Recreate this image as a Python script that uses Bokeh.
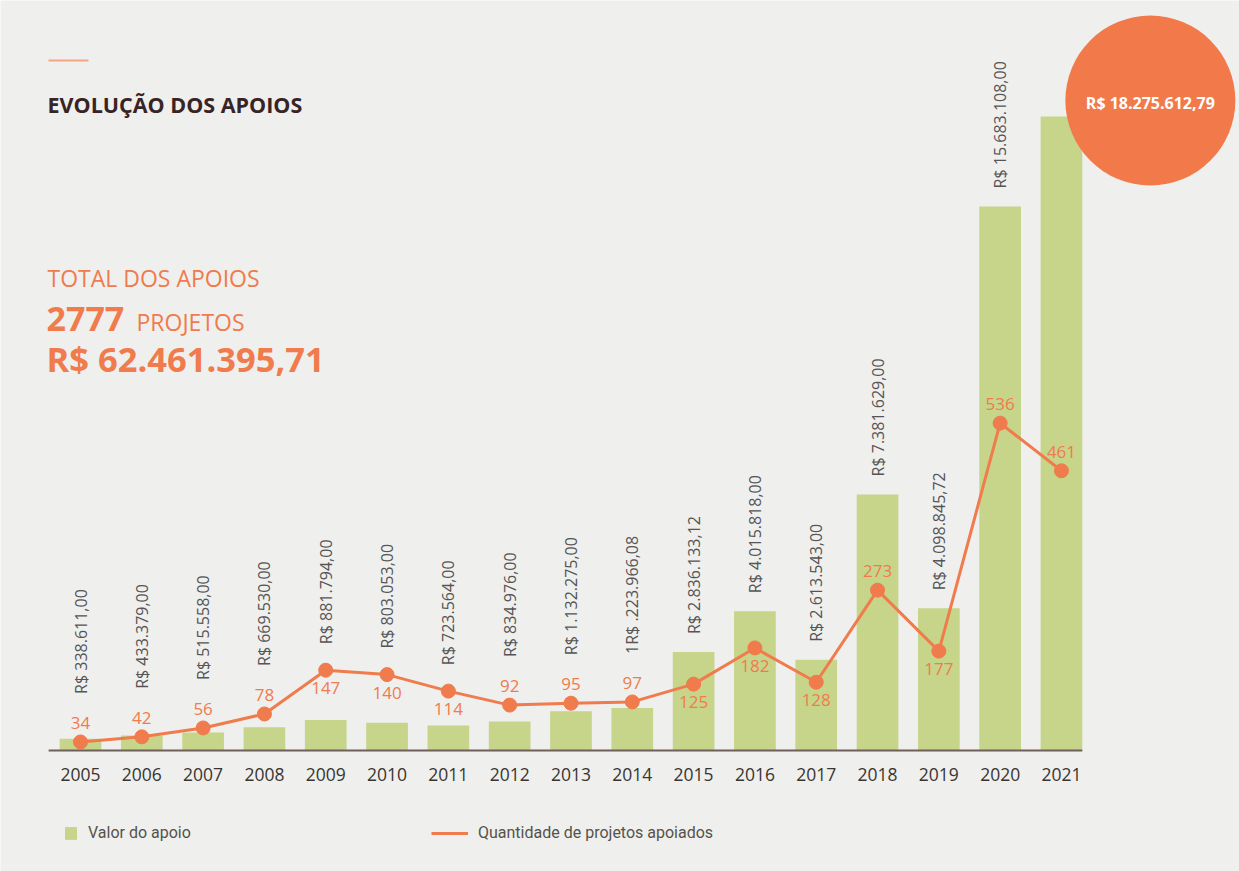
import math
from bokeh.plotting import figure
from bokeh.models import ColumnDataSource, Range1d, FixedTicker, Label, Legend, LegendItem
from bokeh.core.properties import value
from bokeh.embed import file_html
from bokeh.resources import INLINE

# ---------------- data ----------------
years = [2005, 2006, 2007, 2008, 2009, 2010, 2011, 2012, 2013, 2014,
         2015, 2016, 2017, 2018, 2019, 2020, 2021]
valores = [338611.00, 433379.00, 515558.00, 669530.00, 881794.00, 803053.00,
           723564.00, 834976.00, 1132275.00, 1223966.08, 2836133.12,
           4015818.00, 2613543.00, 7381629.00, 4098845.72, 15683108.00,
           18275612.79]
projetos = [34, 42, 56, 78, 147, 140, 114, 92, 95, 97, 125, 182, 128, 273,
            177, 536, 461]
rotulos_valor = ["R$ 338.611,00", "R$ 433.379,00", "R$ 515.558,00",
                 "R$ 669.530,00", "R$ 881.794,00", "R$ 803.053,00",
                 "R$ 723.564,00", "R$ 834.976,00", "R$ 1.132.275,00",
                 "1R$ .223.966,08", "R$ 2.836.133,12", "R$ 4.015.818,00",
                 "R$ 2.613.543,00", "R$ 7.381.629,00", "R$ 4.098.845,72",
                 "R$ 15.683.108,00"]
posicao_rotulo = ["above", "above", "above", "above", "below", "below",
                  "below", "above", "above", "above", "below", "below",
                  "below", "above", "below", "above", "above"]
titulo = "EVOLUÇÃO DOS APOIOS"
total_label = "TOTAL DOS APOIOS"
total_projetos = "2777"
total_valor = "R$ 62.461.395,71"
destaque_2021 = "R$ 18.275.612,79"
legenda_barras = "Valor do apoio"
legenda_linha = "Quantidade de projetos apoiados"

# ---------------- styling / geometry ----------------
BG = "#efefee"
GREEN = "#c6d58a"
ORANGE = "#f07b4c"
DARK = "#382424"
GRAY = "#555555"
FONT = "Open Sans"
LEG_FONT = "Roboto"

W, H = 1239, 871
BASE = 750                        # baseline (px from top)
STEP = 61.31                      # px per year
X0 = 2005 - 80 / STEP
X1 = X0 + W / STEP
KV = 18.2756e6 / 634              # value units per px
PC = 0.635                        # px per project
C0 = 20.5                         # project count at baseline

def X(ix):   # px -> data x
    return X0 + ix / STEP

def Y(iy):   # px from top -> data y (value axis)
    return (BASE - iy) * KV

def hv(px):
    return px * KV

def hc(px):
    return px / PC

p = figure(width=W, height=H,
           x_range=Range1d(X0, X1),
           y_range=Range1d(-(H - BASE) * KV, BASE * KV),
           output_backend="svg", toolbar_location=None,
           y_axis_location=None,
           min_border_left=0, min_border_right=0, min_border_top=0,
           min_border_bottom=0,
           background_fill_color=BG, border_fill_color=BG,
           outline_line_color=None)
p.extra_y_ranges = {"count": Range1d(C0 - (H - BASE) / PC, C0 + BASE / PC)}
p.grid.visible = False

# bars
src = ColumnDataSource(dict(x=years, v=valores, c=projetos))
bars = p.vbar(x="x", top="v", width=0.68, bottom=0, source=src,
              fill_color=GREEN, line_color=None)

# baseline
p.segment(x0=[years[0] - 0.52], x1=[years[-1] + 0.34], y0=[0], y1=[0],
          line_color="#6e5f5a", line_width=2)

# line + points
line = p.line(x="x", y="c", source=src, y_range_name="count",
              line_color=ORANGE, line_width=3)
p.scatter(x="x", y="c", source=src, y_range_name="count", size=14,
          fill_color=ORANGE, line_color=ORANGE)

# count labels
lab_x, lab_y, lab_t = [], [], []
for yr, c, pos in zip(years, projetos, posicao_rotulo):
    lab_x.append(yr)
    lab_y.append(c + hc(19) if pos == "above" else c - hc(18))
    lab_t.append(str(c))
p.text(x=lab_x, y=lab_y, text=lab_t, y_range_name="count",
       text_font=value(FONT), text_font_size="17px", text_color=ORANGE,
       text_align="center", text_baseline="middle")

# rotated value labels (2005-2020)
lx, ly = [], []
for yr, v, c, pos in zip(years[:-1], valores[:-1], projetos[:-1], posicao_rotulo[:-1]):
    h_bar = v / KV
    h_pt = (c - C0) * PC
    h = max(h_bar, h_pt + (30 if pos == "above" else 8)) + 18
    lx.append(yr)
    ly.append(hv(h))
p.text(x=lx, y=ly, text=rotulos_valor, angle=math.pi / 2,
       text_font=value(FONT), text_font_size="16px", text_color=GRAY,
       text_align="left", text_baseline="middle")

# highlight circle for 2021
p.scatter(x=[years[-1] + 1.45], y=[valores[-1] + hv(16)], size=170,
          fill_color="#f27a4a", line_color=None)
p.text(x=[years[-1] + 1.45], y=[valores[-1] + hv(13)], text=[destaque_2021],
       text_font=value(FONT), text_font_size="16px", text_font_style="bold",
       text_color="white", text_align="center", text_baseline="middle")

# header decoration + titles
p.segment(x0=[X(48)], x1=[X(88)], y0=[Y(60)], y1=[Y(60)],
          line_color="#f3a585", line_width=2)
p.add_layout(Label(x=X(47), y=Y(104), text=titulo, text_font=FONT,
                   text_font_size="21.5px", text_font_style="bold",
                   text_color=DARK, text_baseline="middle"))
p.add_layout(Label(x=X(47), y=Y(277), text=total_label, text_font=FONT,
                   text_font_size="23px", text_color=ORANGE,
                   text_baseline="middle"))
p.add_layout(Label(x=X(46), y=Y(318), text=total_projetos, text_font=FONT,
                   text_font_size="34px", text_font_style="bold",
                   text_color=ORANGE, text_baseline="middle"))
p.add_layout(Label(x=X(136), y=Y(321), text="PROJETOS", text_font=FONT,
                   text_font_size="23px", text_color=ORANGE,
                   text_baseline="middle"))
p.add_layout(Label(x=X(46), y=Y(358), text=total_valor, text_font=FONT,
                   text_font_size="34.5px", text_font_style="bold",
                   text_color=ORANGE, text_baseline="middle"))

# x axis drawn at the baseline (takes no border space)
ax = p.xaxis[0]
ax.fixed_location = 0
ax.ticker = FixedTicker(ticks=years)
ax.axis_line_color = None
ax.major_tick_line_color = None
ax.minor_tick_line_color = None
ax.major_label_standoff = 11
ax.major_label_text_font = FONT
ax.major_label_text_font_size = "17.5px"
ax.major_label_text_color = "#3a3530"

# legends (two, so each glyph keeps its own width)
leg_style = dict(orientation="horizontal", background_fill_alpha=0,
                 border_line_color=None, label_text_font=LEG_FONT,
                 label_text_font_size="16px", label_text_color="#55534a",
                 glyph_height=16, label_standoff=10, spacing=0, margin=0,
                 padding=0)
leg_a = Legend(items=[LegendItem(label=legenda_barras, renderers=[bars])],
               location=(63, 29), glyph_width=15, **leg_style)
leg_b = Legend(items=[LegendItem(label=legenda_linha, renderers=[line])],
               location=(431, 29), glyph_width=37, **leg_style)
p.add_layout(leg_a)
p.add_layout(leg_b)

open("out.html", "w").write(file_html(p, INLINE))
